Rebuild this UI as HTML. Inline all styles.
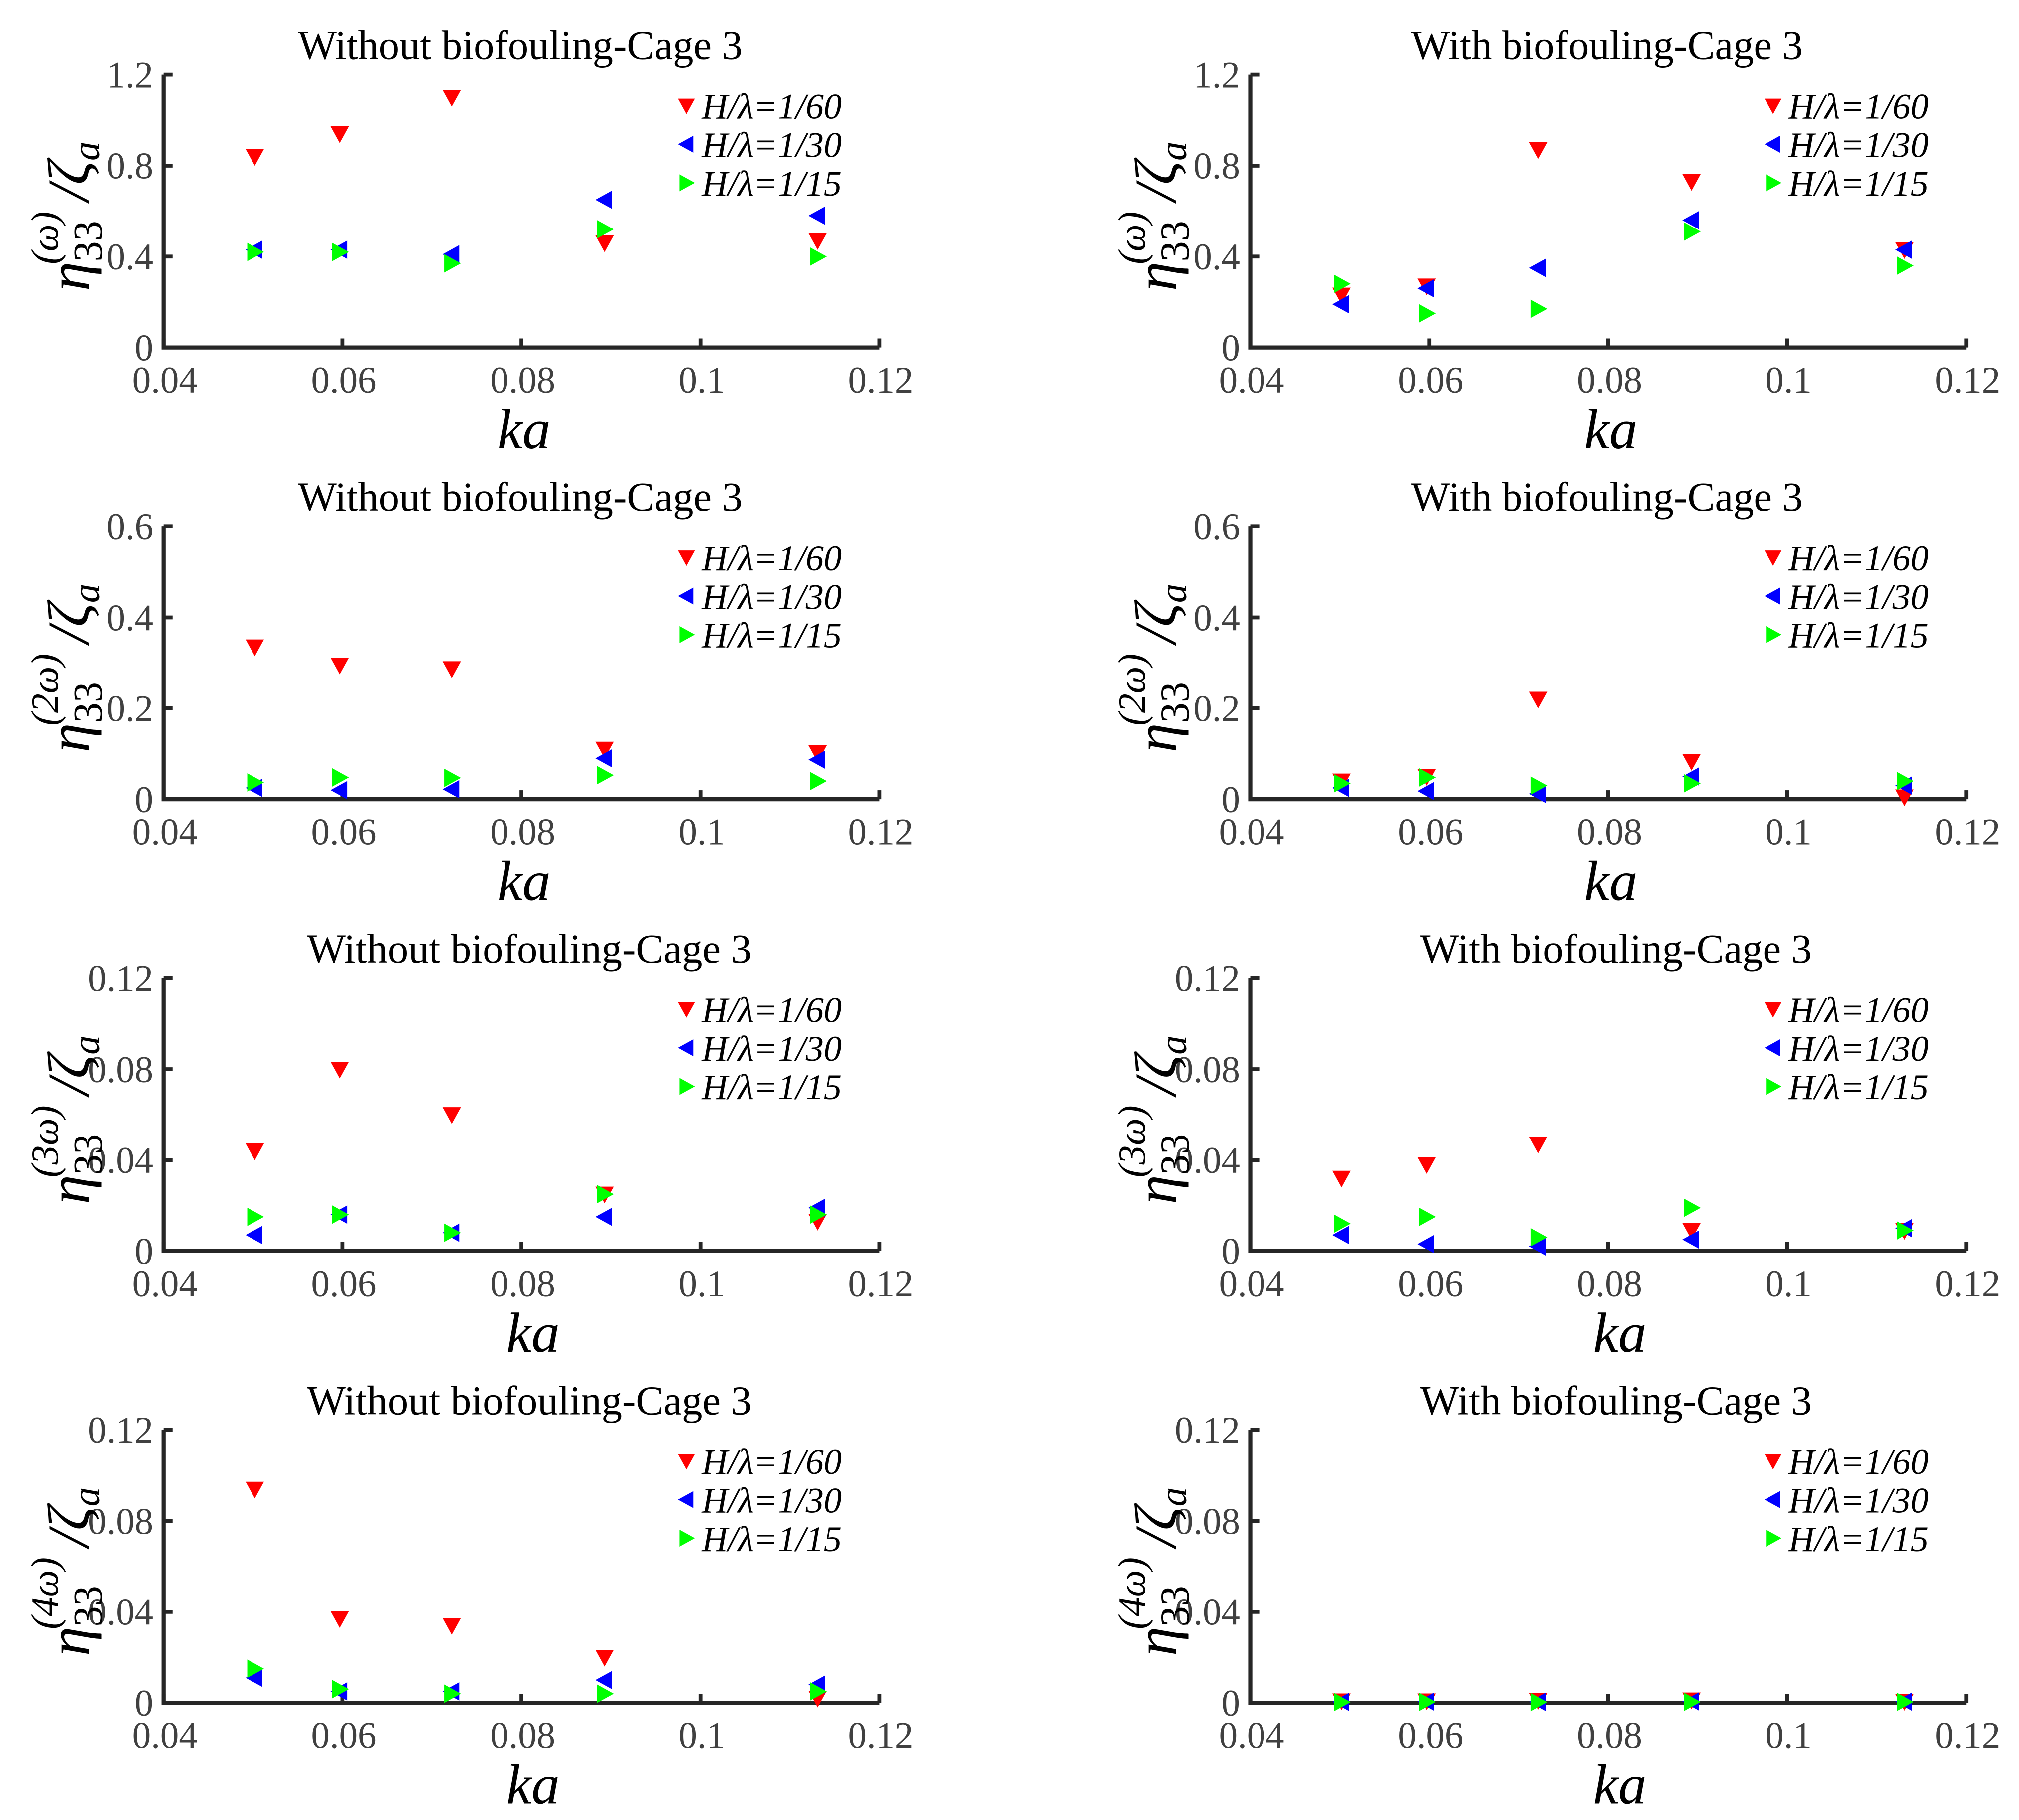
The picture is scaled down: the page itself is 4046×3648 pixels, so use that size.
<!DOCTYPE html>
<html><head><meta charset="utf-8"><style>
html,body{margin:0;padding:0;background:#fff;}
svg{display:block;}
text{font-family:"Liberation Serif",serif;}
</style></head>
<body>
<svg id="fig" xmlns="http://www.w3.org/2000/svg" width="4046" height="3648" viewBox="0 0 1568 1414" preserveAspectRatio="none"></svg>
<script>
const kaValues = [0.0502, 0.0597, 0.0722, 0.0893, 0.1131];
const seriesLabels = ["H/λ=1/60", "H/λ=1/30", "H/λ=1/15"];
const xTicks = [0.04, 0.06, 0.08, 0.1, 0.12];
const xTickLabels = ["0.04", "0.06", "0.08", "0.1", "0.12"];
const yTicksR1 = [0, 0.4, 0.8, 1.2];
const yTickLabelsR1 = ["0", "0.4", "0.8", "1.2"];
const yTicksR2 = [0, 0.2, 0.4, 0.6];
const yTickLabelsR2 = ["0", "0.2", "0.4", "0.6"];
const yTicksR34 = [0, 0.04, 0.08, 0.12];
const yTickLabelsR34 = ["0", "0.04", "0.08", "0.12"];
const harmonics = ["ω", "2ω", "3ω", "4ω"];
// Without biofouling
const w1Red = [0.84, 0.94, 1.10, 0.46, 0.47];
const w1Blue = [0.43, 0.43, 0.41, 0.65, 0.58];
const w1Green = [0.42, 0.42, 0.37, 0.52, 0.40];
const w2Red = [0.335, 0.295, 0.287, 0.11, 0.102];
const w2Blue = [0.025, 0.02, 0.022, 0.09, 0.087];
const w2Green = [0.037, 0.048, 0.047, 0.053, 0.04];
const w3Red = [0.044, 0.080, 0.060, 0.025, 0.013];
const w3Blue = [0.007, 0.016, 0.008, 0.015, 0.019];
const w3Green = [0.015, 0.016, 0.008, 0.025, 0.016];
const w4Red = [0.094, 0.037, 0.034, 0.020, 0.002];
const w4Blue = [0.011, 0.005, 0.005, 0.010, 0.008];
const w4Green = [0.015, 0.006, 0.004, 0.004, 0.005];
// With biofouling
const b1Red = [0.23, 0.27, 0.87, 0.73, 0.43];
const b1Blue = [0.19, 0.26, 0.35, 0.56, 0.43];
const b1Green = [0.28, 0.15, 0.17, 0.51, 0.36];
const b2Red = [0.04, 0.05, 0.22, 0.083, 0.005];
const b2Blue = [0.025, 0.018, 0.012, 0.05, 0.03];
const b2Green = [0.035, 0.048, 0.03, 0.035, 0.04];
const b3Red = [0.032, 0.038, 0.047, 0.009, 0.009];
const b3Blue = [0.007, 0.003, 0.002, 0.005, 0.01];
const b3Green = [0.012, 0.015, 0.006, 0.019, 0.009];
const b4Red = [0.0008, 0.0008, 0.001, 0.0012, 0.0006];
const b4Blue = [0.0004, 0.0005, 0.0004, 0.0006, 0.0005];
const b4Green = [0.0003, 0.0004, 0.0003, 0.0004, 0.0004];

const NS = "http://www.w3.org/2000/svg";
const svg = document.getElementById("fig");
function mk(tag, attrs, parent) {
  const e = document.createElementNS(NS, tag);
  for (const k in attrs) e.setAttribute(k, attrs[k]);
  (parent || svg).appendChild(e);
  return e;
}
const colors = ["#ff0000", "#0000ff", "#00ff00"];
function marker(g, kind, cx, cy, s) {
  let pts;
  if (kind === 0) pts = [[cx - s * 0.55, cy - s * 0.45], [cx + s * 0.55, cy - s * 0.45], [cx, cy + s * 0.55]];
  else if (kind === 1) pts = [[cx - s * 0.55, cy], [cx + s * 0.45, cy - s * 0.55], [cx + s * 0.45, cy + s * 0.55]];
  else pts = [[cx + s * 0.55, cy], [cx - s * 0.45, cy - s * 0.55], [cx - s * 0.45, cy + s * 0.55]];
  return mk("polygon", { points: pts.map(p => p.join(",")).join(" "), fill: colors[kind] }, g);
}

const panels = [
  { col: 0, row: 0, title: "Without biofouling-Cage 3", yt: yTicksR1, yl: yTickLabelsR1, ymax: 1.2, data: [w1Red, w1Blue, w1Green] },
  { col: 1, row: 0, title: "With biofouling-Cage 3", yt: yTicksR1, yl: yTickLabelsR1, ymax: 1.2, data: [b1Red, b1Blue, b1Green] },
  { col: 0, row: 1, title: "Without biofouling-Cage 3", yt: yTicksR2, yl: yTickLabelsR2, ymax: 0.6, data: [w2Red, w2Blue, w2Green] },
  { col: 1, row: 1, title: "With biofouling-Cage 3", yt: yTicksR2, yl: yTickLabelsR2, ymax: 0.6, data: [b2Red, b2Blue, b2Green] },
  { col: 0, row: 2, title: "Without biofouling-Cage 3", yt: yTicksR34, yl: yTickLabelsR34, ymax: 0.12, data: [w3Red, w3Blue, w3Green] },
  { col: 1, row: 2, title: "With biofouling-Cage 3", yt: yTicksR34, yl: yTickLabelsR34, ymax: 0.12, data: [b3Red, b3Blue, b3Green] },
  { col: 0, row: 3, title: "Without biofouling-Cage 3", yt: yTicksR34, yl: yTickLabelsR34, ymax: 0.12, data: [w4Red, w4Blue, w4Green] },
  { col: 1, row: 3, title: "With biofouling-Cage 3", yt: yTicksR34, yl: yTickLabelsR34, ymax: 0.12, data: [b4Red, b4Blue, b4Green] }
];

panels.forEach(p => {
  const x0 = p.col === 0 ? 127 : 971, x1 = x0 + 556;
  const yb = 270 + p.row * 351, yt = yb - 212;
  const shift = p.row >= 2 ? 7 : 0;
  const g = mk("g", {});
  
  
  const sx = v => x0 + (v - 0.04) / 0.08 * (x1 - x0);
  const sy = v => yb - v / p.ymax * (yb - yt);

  const title = mk("text", { x: (x0 + x1) / 2 - 1 + shift, y: yt - 12, "text-anchor": "middle", "font-size": 32, fill: "#000" }, g);
  title.textContent = p.title;
  
  

  const ax = mk("path", { d: `M${x0},${yt} L${x0},${yb} L${x1},${yb}`, stroke: "#262626", "stroke-width": 3.2, fill: "none" }, g);
  
  
  xTicks.forEach((t, i) => {
    const x = sx(t);
    mk("line", { x1: x, y1: yb, x2: x, y2: yb - 7, stroke: "#262626", "stroke-width": 3 }, g);
    const tl = mk("text", { x: x + 1, y: yb + 35, "text-anchor": "middle", "font-size": 29, fill: "#404040" }, g);
    tl.textContent = xTickLabels[i];
    
    
  });
  p.yt.forEach((t, i) => {
    const y = sy(t);
    mk("line", { x1: x0, y1: y, x2: x0 + 7, y2: y, stroke: "#262626", "stroke-width": 3 }, g);
    const tl = mk("text", { x: x0 - 8, y: y + 10, "text-anchor": "end", "font-size": 29, fill: "#404040" }, g);
    tl.textContent = p.yl[i];
    
    
  });

  const xl = mk("text", { x: (x0 + x1) / 2 + 2 + shift, y: yb + 78, "text-anchor": "middle", "font-size": 44, "font-style": "italic", fill: "#000" }, g);
  xl.textContent = "ka";
  
  

  const yl = mk("text", { transform: `translate(${x0 - 58},${(yt + yb) / 2 + 4}) rotate(-90)`, "text-anchor": "middle", "font-size": 46, "font-style": "italic", fill: "#000" }, g);
  
  
  const t1 = mk("tspan", {}, yl); t1.textContent = "η";
  const t2 = mk("tspan", { "font-size": 32, "font-style": "normal", dy: 10 }, yl); t2.textContent = "33";
  const t3 = mk("tspan", { "font-size": 30, dx: -34, dy: -34 }, yl); t3.textContent = "(" + harmonics[p.row] + ")";
  const t4 = mk("tspan", { dy: 24, dx: 8 }, yl); t4.textContent = "/ζ";
  const t5 = mk("tspan", { "font-size": 30, dy: 8 }, yl); t5.textContent = "a";

  p.data.forEach((arr, si) => {
    arr.forEach((v, i) => {
      const m = marker(g, si, sx(kaValues[i]), sy(v), 13);
      
      
    });
  });

  const lx = x0 + 406, ly = yt + 24;
  seriesLabels.forEach((lab, si) => {
    const y = ly + si * 30;
    const m = marker(g, si, lx, y, 12);
    
    
    const lt = mk("text", { x: lx + 12, y: y + 10, "font-size": 28, "font-style": "italic", fill: "#000" }, g);
    lt.textContent = lab;
    
    
  });
});
</script>
</body></html>
